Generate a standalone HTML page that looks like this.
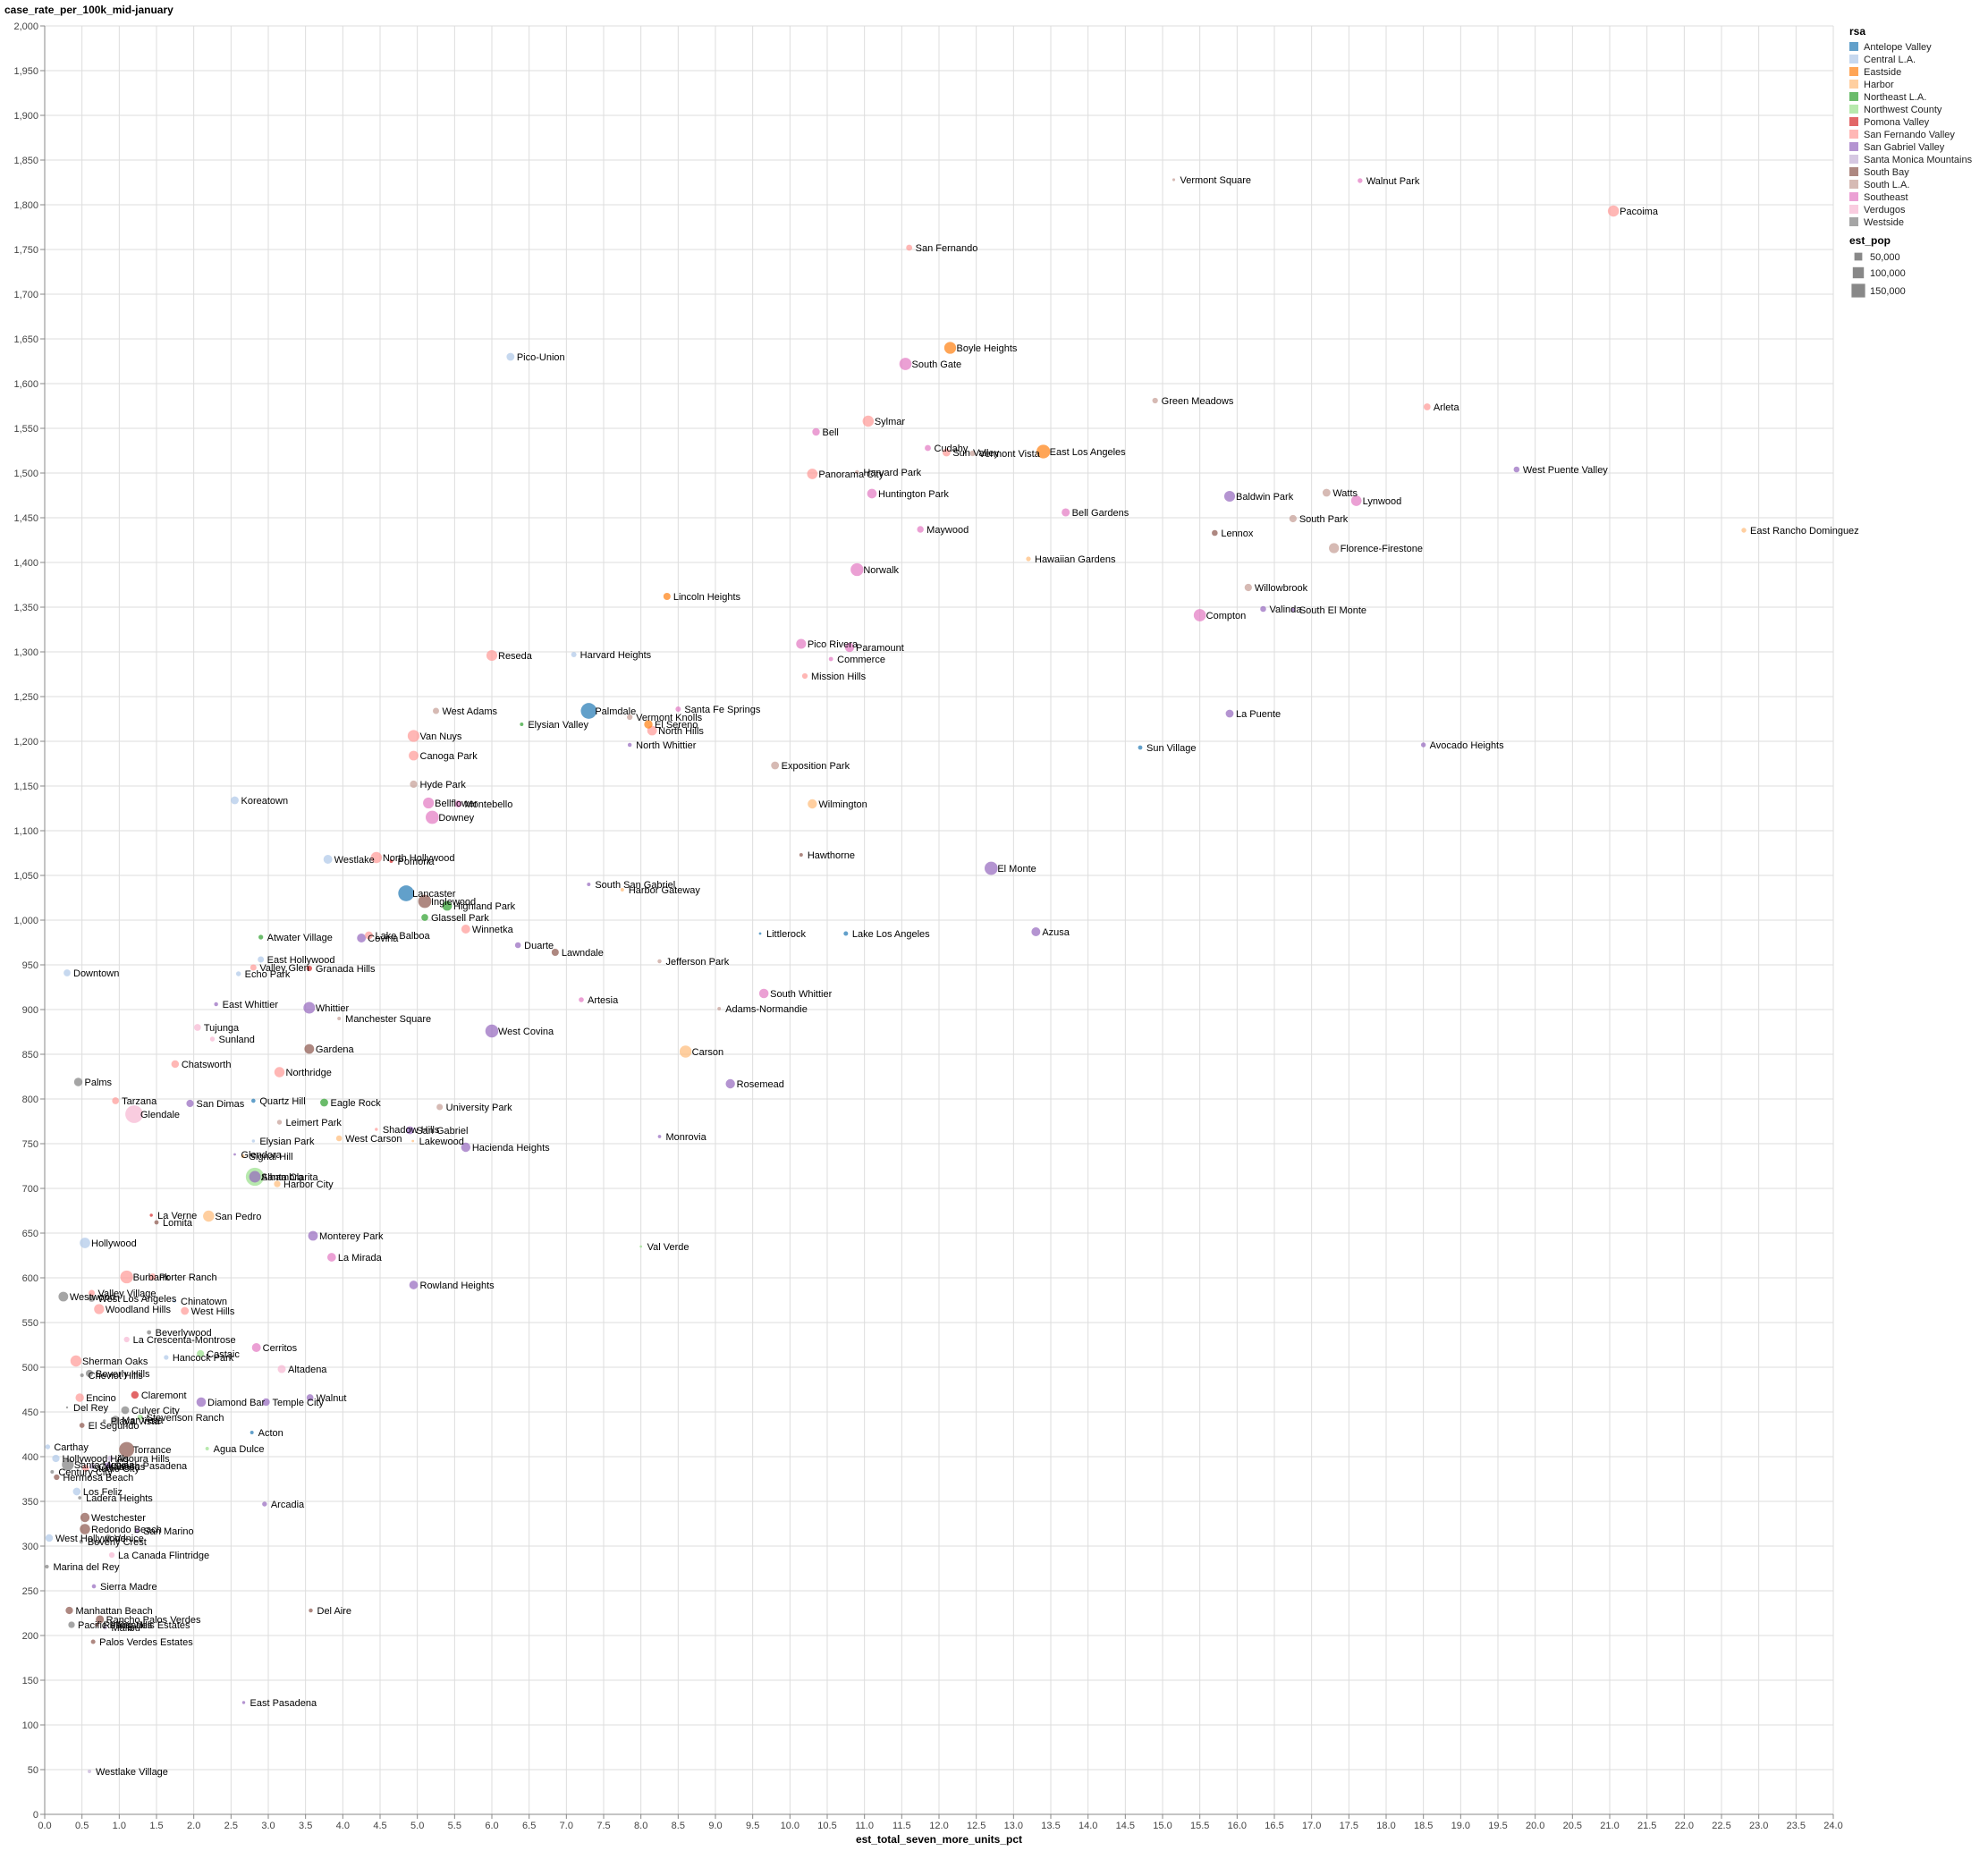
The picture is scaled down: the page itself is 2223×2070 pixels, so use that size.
<!DOCTYPE html>
<html><head><meta charset="utf-8"><style>
body{margin:0;background:#fff;}
svg{display:block;font-family:"Liberation Sans",sans-serif;}
.tick{font-size:11px;fill:#444;}
.lbl{font-size:11px;fill:#000;}
</style></head><body>
<svg id="chart" width="2223" height="2070" viewBox="0 0 2223 2070" xmlns="http://www.w3.org/2000/svg">
<g id="grid"></g>
<g id="axes"></g>
<g id="marks"></g>
<g id="labels"></g>
<g id="legend"></g>
<text x="5" y="15" font-size="12" font-weight="bold">case_rate_per_100k_mid-january</text>
<text x="1050" y="2061" font-size="12" font-weight="bold" text-anchor="middle">est_total_seven_more_units_pct</text>
</svg>
<script>
const categories = ["Antelope Valley","Central L.A.","Eastside","Harbor","Northeast L.A.","Northwest County","Pomona Valley","San Fernando Valley","San Gabriel Valley","Santa Monica Mountains","South Bay","South L.A.","Southeast","Verdugos","Westside"];
const colors = ["#1f77b4","#aec7e8","#ff7f0e","#ffbb78","#2ca02c","#98df8a","#d62728","#ff9896","#9467bd","#c5b0d5","#8c564b","#c49c94","#e377c2","#f7b6d2","#7f7f7f"];
const names = ["Vermont Square","Walnut Park","Pacoima","San Fernando","Boyle Heights","Pico-Union","South Gate","Green Meadows","Arleta","Sylmar",
"Bell","Cudahy","Sun Valley","Vermont Vista","East Los Angeles","Harvard Park","Panorama City","West Puente Valley","Huntington Park","Baldwin Park",
"Watts","Lynwood","Bell Gardens","South Park","Maywood","Lennox","East Rancho Dominguez","Florence-Firestone","Hawaiian Gardens","Norwalk",
"Willowbrook","Lincoln Heights","Valinda","South El Monte","Compton","Pico Rivera","Paramount","Reseda","Harvard Heights","Commerce",
"Mission Hills","Palmdale","West Adams","Santa Fe Springs","Vermont Knolls","El Sereno","Elysian Valley","North Hills","La Puente","Van Nuys",
"North Whittier","Sun Village","Avocado Heights","Canoga Park","Exposition Park","Hyde Park","Koreatown","Bellflower","Montebello","Wilmington",
"Downey","Hawthorne","Westlake","North Hollywood","Pomona","El Monte","South San Gabriel","Harbor Gateway","Lancaster","Inglewood",
"Highland Park","Glassell Park","Winnetka","Littlerock","Lake Los Angeles","Azusa","Atwater Village","Lake Balboa","Covina","Duarte",
"Lawndale","East Hollywood","Jefferson Park","Granada Hills","Valley Glen","Echo Park","Downtown","Artesia","South Whittier","East Whittier",
"Whittier","Adams-Normandie","Manchester Square","Tujunga","West Covina","Sunland","Carson","Gardena","Chatsworth","Northridge",
"Palms","Rosemead","Tarzana","Quartz Hill","San Dimas","Eagle Rock","University Park","Glendale","Leimert Park","Shadow Hills",
"San Gabriel","West Carson","Lakewood","Monrovia","Hacienda Heights","Elysian Park","Glendora","Signal Hill","Santa Clarita","Alhambra",
"Harbor City","La Verne","Lomita","San Pedro","Monterey Park","Hollywood","Val Verde","La Mirada","Burbank","Porter Ranch",
"Rowland Heights","Westwood","Valley Village","West Los Angeles","Chinatown","Woodland Hills","West Hills","Beverlywood","La Crescenta-Montrose","Cerritos",
"Castaic","Hancock Park","Sherman Oaks","Altadena","Beverly Hills","Cheviot Hills","Walnut","Encino","Claremont","Diamond Bar",
"Temple City","Del Rey","Culver City","Stevenson Ranch","Mar Vista","Playa Vista","El Segundo","Acton","Carthay","Torrance",
"Agua Dulce","Hollywood Hills","Agoura Hills","Santa Monica","Calabasas","South Pasadena","Century City","Studio City","Hermosa Beach","Los Feliz",
"Ladera Heights","Arcadia","Westchester","Redondo Beach","San Marino","West Hollywood","Venice","Beverly Crest","La Canada Flintridge","Marina del Rey",
"Sierra Madre","Manhattan Beach","Rancho Palos Verdes","Pacific Palisades","Rolling Hills Estates","Malibu","Palos Verdes Estates","Del Aire","East Pasadena","Westlake Village"];
const xValues = [15.15,17.65,21.05,11.6,12.15,6.25,11.55,14.9,18.55,11.05,
10.35,11.85,12.1,12.45,13.4,10.9,10.3,19.75,11.1,15.9,
17.2,17.6,13.7,16.75,11.75,15.7,22.8,17.3,13.2,10.9,
16.15,8.35,16.35,16.75,15.5,10.15,10.8,6.0,7.1,10.55,
10.2,7.3,5.25,8.5,7.85,8.1,6.4,8.15,15.9,4.95,
7.85,14.7,18.5,4.95,9.8,4.95,2.55,5.15,5.55,10.3,
5.2,10.15,3.8,4.45,4.65,12.7,7.3,7.75,4.85,5.1,
5.4,5.1,5.65,9.6,10.75,13.3,2.9,4.35,4.25,6.35,
6.85,2.9,8.25,3.55,2.8,2.6,0.3,7.2,9.65,2.3,
3.55,9.05,3.95,2.05,6.0,2.25,8.6,3.55,1.75,3.15,
0.45,9.2,0.95,2.8,1.95,3.75,5.3,1.2,3.15,4.45,
4.9,3.95,4.94,8.25,5.65,2.8,2.55,2.66,2.82,2.82,
3.12,1.43,1.5,2.2,3.6,0.54,8.0,3.85,1.1,1.45,
4.95,0.25,0.63,0.63,1.74,0.73,1.88,1.4,1.1,2.84,
2.09,1.63,0.42,3.18,0.6,0.5,3.56,0.47,1.21,2.1,
2.97,0.3,1.08,1.28,0.95,0.8,0.5,2.78,0.04,1.1,
2.18,0.15,0.88,0.31,0.64,0.85,0.1,0.55,0.16,0.43,
0.47,2.95,0.54,0.54,1.24,0.06,0.85,0.49,0.9,0.03,
0.66,0.33,0.74,0.36,0.7,0.81,0.65,3.57,2.67,0.6];
const yValues = [1828,1827,1793,1752,1640,1630,1622,1581,1574,1558,
1546,1528,1523,1522,1524,1501,1499,1504,1477,1474,
1478,1469,1456,1449,1437,1433,1436,1416,1404,1392,
1372,1362,1348,1347,1341,1309,1305,1296,1297,1292,
1273,1234,1234,1236,1227,1219,1219,1212,1231,1206,
1196,1193,1196,1184,1173,1152,1134,1131,1130,1130,
1115,1073,1068,1070,1066,1058,1040,1034,1030,1021,
1016,1003,990,985,985,987,981,983,980,972,
964,956,954,946,947,940,941,911,918,906,
902,901,890,880,876,867,853,856,839,830,
819,817,798,798,795,796,791,783,774,766,
765,756,753,758,746,753,738,736,713,713,
705,670,662,669,647,639,635,623,601,601,
592,579,583,577,574,565,563,539,531,522,
515,511,507,498,493,491,466,466,469,461,
461,455,452,444,441,440,435,427,411,408,
409,398,398,391,389,390,383,387,377,361,
354,347,332,319,317,309,309,305,290,277,
255,228,218,212,212,209,193,228,125,48];
const popThousands = [5,15,80,24,90,40,95,20,30,80,
36,24,40,20,120,10,70,22,58,75,
40,70,42,35,28,22,15,65,14,105,
35,33,22,8,95,63,55,75,18,12,
20,160,25,18,20,45,8,60,40,90,
10,12,15,60,40,35,40,76,30,55,
110,8,50,80,8,110,8,8,160,110,
60,30,50,4,13,50,14,40,50,22,
33,25,10,20,25,15,30,16,57,10,
87,8,8,30,108,15,93,60,37,67,
45,55,30,11,34,40,25,200,15,6,
40,22,4,7,55,6,4,8,210,85,
27,6,12,80,60,70,4,48,105,30,
48,60,25,30,8,65,40,12,20,50,
35,14,80,42,34,9,30,45,36,57,
36,3,40,20,45,6,17,8,15,145,
8,35,20,90,24,26,8,30,20,38,
7,15,55,68,13,36,30,10,20,9,
11,35,42,27,8,12,13,10,6,8];
const rsaIndex = [11,12,7,7,2,1,12,11,7,7,
12,12,7,11,2,11,7,8,12,8,
11,12,12,11,12,10,3,11,3,12,
11,2,8,8,12,12,12,7,1,12,
7,0,11,12,11,2,4,7,8,7,
8,0,8,7,11,11,1,12,12,3,
12,10,1,7,6,8,8,3,0,10,
4,4,7,0,0,8,4,7,8,8,
10,1,11,6,7,1,1,12,12,8,
8,11,11,13,8,13,3,10,7,7,
14,8,7,0,8,4,11,13,11,7,
8,3,3,8,8,1,8,3,5,8,
3,6,10,3,8,1,5,12,7,7,
8,14,7,14,1,7,7,14,13,12,
5,1,7,13,14,14,8,7,6,8,
8,14,14,5,14,14,10,0,1,10,
5,1,9,14,9,8,14,7,10,1,
14,8,10,10,8,1,14,14,13,14,
8,10,10,14,10,9,10,10,8,9];
const xTicks = [];
for (let t = 0; t <= 24; t += 0.5) xTicks.push(t);
const yTicks = [];
for (let t = 0; t <= 2000; t += 50) yTicks.push(t);
const legendSizes = [50000,100000,150000];

const NS = "http://www.w3.org/2000/svg";
const L = 50, R = 2050, T = 29, B = 2029;
const xScale = v => L + v * (R - L) / 24;
const yScale = v => B - v * (B - T) / 2000;
const areaOf = pop => pop / 650;
function mk(tag, attrs, parent) {
  const e = document.createElementNS(NS, tag);
  for (const k in attrs) e.setAttribute(k, attrs[k]);
  parent.appendChild(e);
  return e;
}
const grid = document.getElementById('grid'), axes = document.getElementById('axes');
const marks = document.getElementById('marks'), labels = document.getElementById('labels'), legend = document.getElementById('legend');

xTicks.forEach(t => {
  const x = xScale(t);
  const gl = mk('line', {x1:x, x2:x, y1:T, y2:B, stroke:'#ddd', 'stroke-width':1}, grid);
  
  
  mk('line', {x1:x, x2:x, y1:B, y2:B+5, stroke:'#888'}, axes);
  const tx = mk('text', {x:x, y:B+16, 'text-anchor':'middle', class:'tick'}, axes);
  tx.textContent = t.toFixed(1);
  
  
});
yTicks.forEach(t => {
  const y = yScale(t);
  const gl = mk('line', {x1:L, x2:R, y1:y, y2:y, stroke:'#ddd', 'stroke-width':1}, grid);
  
  
  mk('line', {x1:L-5, x2:L, y1:y, y2:y, stroke:'#888'}, axes);
  const tx = mk('text', {x:L-7, y:y+4, 'text-anchor':'end', class:'tick'}, axes);
  tx.textContent = t.toLocaleString('en-US');
  
  
});
mk('line', {x1:L, x2:R, y1:B, y2:B, stroke:'#888'}, axes);
mk('line', {x1:L, x2:L, y1:T, y2:B, stroke:'#888'}, axes);

const order = names.map((_, i) => i).sort((a, b) => popThousands[b] - popThousands[a]);
order.forEach(i => {
  const cx = xScale(xValues[i]), cy = yScale(yValues[i]);
  const r = Math.sqrt(areaOf(popThousands[i] * 1000) / Math.PI);
  const c = mk('circle', {cx:cx, cy:cy, r:r, fill:colors[rsaIndex[i]], 'fill-opacity':0.7}, marks);
  
  
});
names.forEach((n, i) => {
  const t = mk('text', {x:xScale(xValues[i]) + 7, y:yScale(yValues[i]) + 4, class:'lbl'}, labels);
  t.textContent = n;
  
  
});

const lx = 2068;
const lt = mk('text', {x:lx, y:39, 'font-size':12, 'font-weight':'bold'}, legend);
lt.textContent = 'rsa';


categories.forEach((c, i) => {
  const cy = 52 + i * 14;
  const sq = mk('rect', {x:lx, y:cy-5, width:10, height:10, fill:colors[i], 'fill-opacity':0.7}, legend);
  
  
  const t = mk('text', {x:lx+16, y:cy+4, 'font-size':11, fill:'#222'}, legend);
  t.textContent = c;
  
  
});
const st = mk('text', {x:lx, y:273, 'font-size':12, 'font-weight':'bold'}, legend);
st.textContent = 'est_pop';


const sizeY = [287, 305, 325];
legendSizes.forEach((p, i) => {
  const s = Math.sqrt(areaOf(p));
  const sq = mk('rect', {x:2078 - s/2, y:sizeY[i] - s/2, width:s, height:s, fill:'#888'}, legend);
  
  
  const t = mk('text', {x:2091, y:sizeY[i] + 4, 'font-size':11, fill:'#222'}, legend);
  t.textContent = p.toLocaleString('en-US');
  
  
});
</script>
</body></html>
